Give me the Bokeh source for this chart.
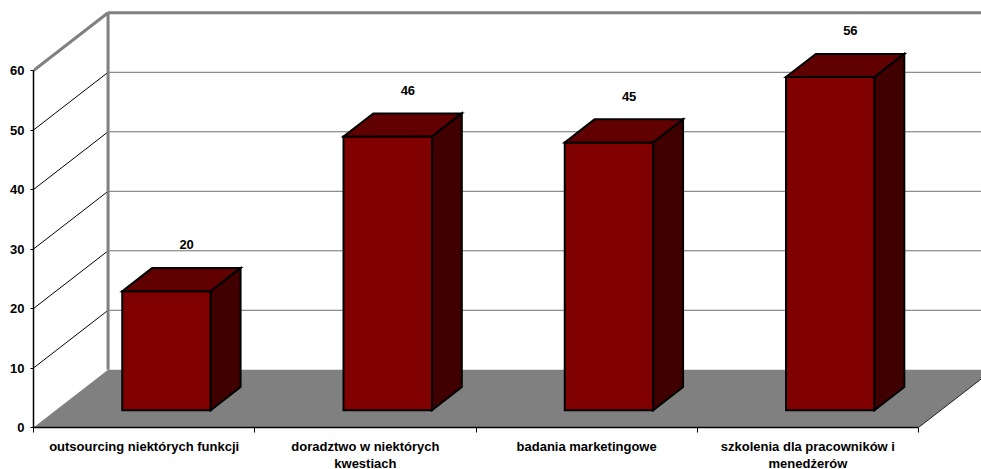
from bokeh.plotting import figure
from bokeh.models import ColumnDataSource, Range1d, FixedTicker, LinearAxis
from bokeh.core.properties import value
from bokeh.embed import file_html
from bokeh.resources import INLINE

# --- data ---------------------------------------------------------------
categories = [
    "outsourcing niektórych funkcji",
    "doradztwo w niektórych\nkwestiach",
    "badania marketingowe",
    "szkolenia dla pracowników i\nmenedżerów",
]
values = [20, 46, 45, 56]
y_ticks = [0, 10, 20, 30, 40, 50, 60]

# --- 3D projection parameters (data units) ---------------------------------
DX = 0.337      # depth offset along x (category units)
DY = 9.7        # depth offset along y (value units)
HALF_W = 0.2    # half bar width
F0, F1 = 0.3, 0.7   # bar front / back depth fractions
N = len(categories)
YMAX = y_ticks[-1]

FONT = "Liberation Sans"
FONT_SIZE = "13px"

p = figure(
    frame_width=948, frame_height=427,
    x_range=Range1d(0, 948 / 221.25), y_range=Range1d(0, 427 / 5.95),
    min_border_left=33, min_border_right=0, min_border_top=0, min_border_bottom=42,
    output_backend="svg", toolbar_location=None,
    x_axis_location=None, y_axis_location=None,
)
p.outline_line_color = None
p.grid.visible = False
p.background_fill_color = "white"
p.border_fill_color = "white"

# floor
p.patch([0, N, N + DX, DX], [0, 0, DY, DY], fill_color="#808080", line_color=None)
p.line([N, N + DX], [0, DY], line_color="#202020", line_width=1)

# side wall diagonals and back wall gridlines
for t in y_ticks[1:]:
    top = t == YMAX
    p.line([0, DX], [t, t + DY],
           line_color="#808080" if top else "black", line_width=3 if top else 1)
    p.line([DX, N + DX], [t + DY, t + DY],
           line_color="#808080" if top else "#6e6e6e", line_width=3 if top else 1)
p.line([DX, DX], [DY, YMAX + DY], line_color="#808080", line_width=3)

# bars: front, top and side faces
front_xs, front_ys, top_xs, top_ys, side_xs, side_ys = [], [], [], [], [], []
for i, v in enumerate(values):
    c = i + 0.5
    xl0, xr0 = c - HALF_W + F0 * DX, c + HALF_W + F0 * DX
    xl1, xr1 = c - HALF_W + F1 * DX, c + HALF_W + F1 * DX
    y0, y1 = F0 * DY, F1 * DY
    front_xs.append([xl0, xr0, xr0, xl0])
    front_ys.append([y0, y0, v + y0, v + y0])
    top_xs.append([xl0, xr0, xr1, xl1])
    top_ys.append([v + y0, v + y0, v + y1, v + y1])
    side_xs.append([xr0, xr1, xr1, xr0])
    side_ys.append([y0, y1, v + y1, v + y0])

bar_style = dict(line_color="black", line_width=2, line_join="miter")
p.patches(front_xs, front_ys, fill_color="#800000", **bar_style)
p.patches(top_xs, top_ys, fill_color="#600000", **bar_style)
p.patches(side_xs, side_ys, fill_color="#400000", **bar_style)

# value labels
lab = ColumnDataSource(dict(
    x=[i + 0.5 + 0.57 * DX for i in range(N)],
    y=[v + F1 * DY + 3.9 for v in values],
    t=[str(v) for v in values],
))
p.text("x", "y", text="t", source=lab, text_font=value(FONT), text_font_style="bold",
       text_font_size=FONT_SIZE, text_align="center", text_baseline="middle",
       text_color="black")

# value axis
yax = LinearAxis(ticker=FixedTicker(ticks=y_ticks), bounds=(0, YMAX))
yax.axis_line_color = "black"
yax.axis_line_width = 1.5
yax.major_tick_out = 3
yax.major_tick_in = 0
yax.major_tick_line_color = "black"
yax.minor_tick_line_color = None
yax.major_label_standoff = 6
yax.major_label_text_font = FONT
yax.major_label_text_font_style = "bold"
yax.major_label_text_font_size = FONT_SIZE
yax.major_label_text_color = "black"
p.add_layout(yax, "left")

# category axis
centers = [i + 0.5 for i in range(N)]
xax = LinearAxis(ticker=FixedTicker(ticks=centers, minor_ticks=list(range(N + 1))),
                 bounds=(0, N))
xax.major_label_overrides = {c: lbl for c, lbl in zip(centers, categories)}
xax.axis_line_color = "black"
xax.axis_line_width = 1.5
xax.major_tick_line_color = None
xax.major_tick_out = 0
xax.major_tick_in = 0
xax.minor_tick_line_color = "black"
xax.minor_tick_out = 5
xax.minor_tick_in = 0
xax.major_label_standoff = 6
xax.major_label_text_line_height = 1.15
xax.major_label_text_font = FONT
xax.major_label_text_font_style = "bold"
xax.major_label_text_font_size = FONT_SIZE
xax.major_label_text_color = "black"
p.add_layout(xax, "below")

open("out.html", "w").write(file_html(p, INLINE))
